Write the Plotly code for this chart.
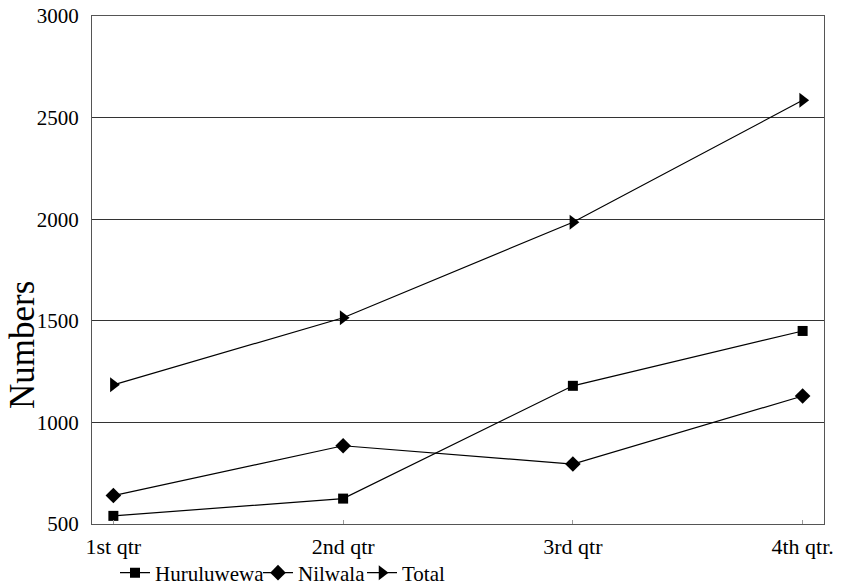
import plotly.graph_objects as go

quarters = ["1st qtr", "2nd qtr", "3rd qtr", "4th qtr."]
huruluwewa = [540, 625, 1180, 1450]
nilwala = [640, 885, 795, 1130]
total = [1185, 1515, 1985, 2585]

y_ticks = [500, 1000, 1500, 2000, 2500, 3000]

W, H = 841, 586
SERIF = "Liberation Serif, serif"

fig = go.Figure()

series = [
    ("Huruluwewa", huruluwewa, "square", 10, "legend"),
    ("Nilwala", nilwala, "diamond", 12, "legend2"),
    ("Total", total, "triangle-right", 13, "legend3"),
]
for name, vals, sym, size, leg in series:
    fig.add_trace(go.Scatter(
        x=quarters, y=vals, name=name, mode="lines+markers",
        line=dict(color="black", width=1.2),
        marker=dict(symbol=sym, size=size, color="black"),
        legend=leg, showlegend=True,
    ))


def legend_at(px):
    return dict(
        orientation="h", xref="container", yref="container",
        x=px / W, xanchor="left", y=1 - 573 / H, yanchor="middle",
        bgcolor="rgba(0,0,0,0)",
        font=dict(family=SERIF, size=21, color="black"),
    )


fig.update_layout(
    showlegend=True,
    legend=legend_at(115),
    legend2=legend_at(258),
    legend3=legend_at(362),
)

# vertical axis title placed as a rotated annotation
fig.add_annotation(
    text="Numbers", textangle=-90, xref="paper", yref="paper",
    x=-0.093, xanchor="center", y=(524 - 345) / (524 - 16), yanchor="middle",
    xshift=-2, showarrow=False,
    font=dict(family=SERIF, size=35, color="black"),
)

fig.update_layout(
    width=W, height=H,
    margin=dict(l=92, r=17, t=16, b=62, autoexpand=False),
    paper_bgcolor="white", plot_bgcolor="white",
    font=dict(family=SERIF, color="black"),
    xaxis=dict(
        type="category", range=[-0.093, 3.093],
        showline=True, linecolor="#555", linewidth=1, mirror=True,
        showgrid=False, ticks="inside", ticklen=4, tickcolor="#999",
        ticklabelstandoff=3,
        tickfont=dict(family=SERIF, size=22, color="black"),
    ),
    yaxis=dict(
        range=[500, 3000], tickvals=y_ticks,
        showline=True, linecolor="#555", linewidth=1, mirror=True,
        showgrid=True, gridcolor="#333", gridwidth=1,
        zeroline=False, ticks="", ticklabelstandoff=8,
        tickfont=dict(family=SERIF, size=21, color="black"),
    ),
)

fig.write_html("out.html")
